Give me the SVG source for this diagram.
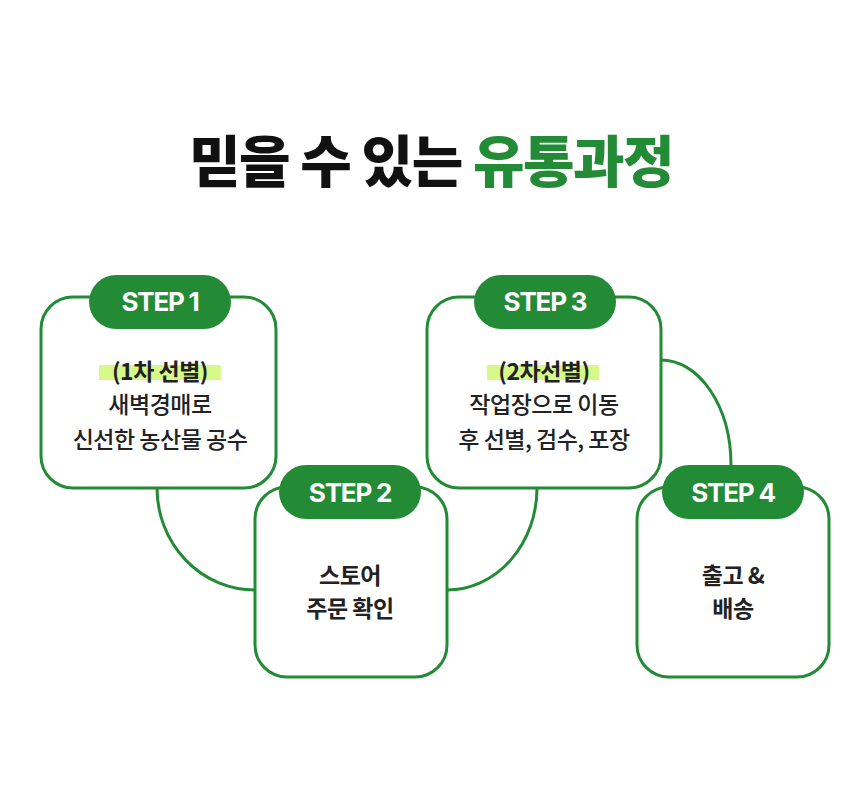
<svg xmlns="http://www.w3.org/2000/svg" width="860" height="801" viewBox="0 0 860 801">
<style>
.box{fill:#fff;stroke:#238b36;stroke-width:3}
.pill{fill:#238b36}
.pt{fill:#fff;font-family:Inter,"Noto Sans CJK KR",sans-serif;font-weight:700;font-size:26px;text-anchor:middle;letter-spacing:-1.2px}
.t{fill:#222;font-family:"Noto Sans CJK KR",sans-serif;font-size:23px;font-weight:500;text-anchor:middle;letter-spacing:-0.5px}
.b{font-weight:700}
.hl{fill:#d6f98a}
.c{fill:none;stroke:#238b36;stroke-width:3}
</style>
<rect width="860" height="801" fill="#fff"/>
<text x="431" y="182" font-family="'Noto Sans CJK KR',sans-serif" font-weight="900" font-size="56" text-anchor="middle" letter-spacing="-1.5"><tspan fill="#111">믿을 수 있는 </tspan><tspan fill="#238b36">유통과정</tspan></text>
<g id="connectors">
<path class="c" d="M157,488 A98,102 0 0 0 255,590"/>
<path class="c" d="M447,590 A90,102 0 0 0 537,488"/>
<path class="c" d="M661,360 A70,105 0 0 1 731,465"/>
</g>
<g id="step1">
<rect class="box" x="41" y="297" width="235" height="191" rx="32"/>
<rect class="pill" x="89" y="275" width="142" height="54" rx="27"/>
<text class="pt" x="160" y="311">STEP 1</text>
<rect class="hl" x="99" y="365" width="122" height="15"/>
<text class="t b" x="160" y="380">(1차 선별)</text>
<text class="t" x="160" y="413">새벽경매로</text>
<text class="t" x="160" y="448">신선한 농산물 공수</text>
</g>
<g id="step3">
<rect class="box" x="427" y="297" width="234" height="191" rx="32"/>
<rect class="pill" x="474" y="275" width="142" height="54" rx="27"/>
<text class="pt" x="545" y="311">STEP 3</text>
<rect class="hl" x="487" y="365" width="112" height="15"/>
<text class="t b" x="544" y="380">(2차선별)</text>
<text class="t" x="544" y="413">작업장으로 이동</text>
<text class="t" x="544" y="448">후 선별, 검수, 포장</text>
</g>
<g id="step2">
<rect class="box" x="255" y="487" width="192" height="190" rx="32"/>
<rect class="pill" x="279" y="465" width="142" height="54" rx="27"/>
<text class="pt" x="350" y="502">STEP 2</text>
<text class="t b" x="350" y="584">스토어</text>
<text class="t b" x="350" y="617">주문 확인</text>
</g>
<g id="step4">
<rect class="box" x="637" y="487" width="192" height="190" rx="32"/>
<rect class="pill" x="662" y="465" width="142" height="54" rx="27"/>
<text class="pt" x="733" y="502">STEP 4</text>
<text class="t b" x="733" y="584">출고 &amp;</text>
<text class="t b" x="733" y="617">배송</text>
</g>
</svg>
